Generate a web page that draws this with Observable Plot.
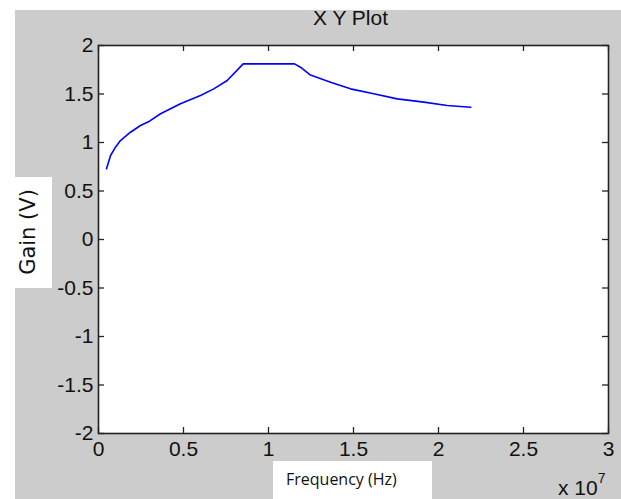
<!DOCTYPE html>
<html>
<head>
<meta charset="utf-8">
<script src="https://cdn.jsdelivr.net/npm/d3@7"></script>
<script src="https://cdn.jsdelivr.net/npm/@observablehq/plot@0.6"></script>
<style>
  html, body { margin: 0; padding: 0; background: #ffffff; }
  #wrap { position: relative; width: 621px; height: 499px; overflow: hidden; }
  #bg { position: absolute; left: 15px; top: 10px; width: 606px; height: 489px; background: #cccccc; }
  #chart { position: absolute; left: 0; top: 0; }
  .lbl { position: absolute; color: #111; font-family: "Liberation Sans", Arial, sans-serif; }
  #title { left: 0; width: 700px; top: 6px; text-align: center; font-size: 21px; }
  #ybox { position: absolute; left: 0; top: 177px; width: 52px; height: 111px; background: #fff; }
  #ylab { position: absolute; left: 28px; top: 232px; transform: translate(-50%, -50%) rotate(-90deg); white-space: nowrap; font-family: "DejaVu Sans", sans-serif; font-size: 21px; color: #111; }
  #xbox { position: absolute; left: 273px; top: 461px; width: 159px; height: 38px; background: #fff; }
  #xlab { position: absolute; left: 286px; top: 468px; font-family: "Open Sans", sans-serif; font-size: 16px; color: #111; white-space: nowrap; }
  #exp { left: 558px; top: 474px; font-size: 21px; white-space: nowrap; }
  #exp sup { font-size: 14px; position: relative; top: -4px; }
</style>
</head>
<body>
<div id="wrap">
  <div id="bg"></div>
  <div id="chart"></div>
  <div id="title" class="lbl" style="width:621px; left:40px;">X Y Plot</div>
  <div id="ybox"></div>
  <div id="ylab">Gain (V)</div>
  <div id="xbox"></div>
  <div id="xlab">Frequency (Hz)</div>
  <div id="exp" class="lbl">x 10<sup>7</sup></div>
</div>
<script>
// Frequency in units of 1e7 Hz
const freq = [0.047, 0.071, 0.10, 0.129, 0.188, 0.247, 0.30, 0.365, 0.482, 0.60, 0.678, 0.757, 0.851, 1.153, 1.188, 1.247, 1.365, 1.482, 1.619, 1.757, 1.914, 2.051, 2.19];
const gain = [0.73, 0.866, 0.952, 1.02, 1.106, 1.175, 1.22, 1.296, 1.399, 1.485, 1.553, 1.639, 1.811, 1.811, 1.776, 1.695, 1.622, 1.553, 1.502, 1.45, 1.416, 1.381, 1.364];
const xTicks = [0, 0.5, 1, 1.5, 2, 2.5, 3];
const xTickLabels = ["0", "0.5", "1", "1.5", "2", "2.5", "3"];
const yTicks = [-2, -1.5, -1, -0.5, 0, 0.5, 1, 1.5, 2];
const yTickLabels = ["-2", "-1.5", "-1", "-0.5", "0", "0.5", "1", "1.5", "2"];

const data = freq.map((f, i) => ({f, g: gain[i]}));
const W = 621, H = 499, mL = 98, mR = 13, mT = 45, mB = 66;
const iw = W - mL - mR, ih = H - mT - mB, tk = 6;

const plot = Plot.plot({
  width: W, height: H,
  marginLeft: mL, marginRight: mR, marginTop: mT, marginBottom: mB,
  style: {background: "transparent", fontFamily: "Liberation Sans, Arial, sans-serif", fontSize: "21px", color: "#111"},
  x: {domain: [0, 3], axis: null},
  y: {domain: [-2, 2], axis: null},
  marks: [
    Plot.frame({fill: "white", stroke: null}),
    Plot.line(data, {x: "f", y: "g", stroke: "#0000ff", strokeWidth: 1.6}),
    Plot.tickX(xTicks, {x: d => d, stroke: "#222", strokeWidth: 1.3, insetTop: ih - tk}),
    Plot.tickX(xTicks, {x: d => d, stroke: "#222", strokeWidth: 1.3, insetBottom: ih - tk}),
    Plot.tickY(yTicks, {y: d => d, stroke: "#222", strokeWidth: 1.3, insetLeft: iw - tk}),
    Plot.tickY(yTicks, {y: d => d, stroke: "#222", strokeWidth: 1.3, insetRight: iw - tk}),
    Plot.frame({stroke: "#222", strokeWidth: 1.6}),
    Plot.text(xTicks, {x: d => d, frameAnchor: "bottom", text: (d, i) => xTickLabels[i], lineAnchor: "top", dy: 8, fill: "#111", fontSize: 21}),
    Plot.text(yTicks, {y: d => d, frameAnchor: "left", text: (d, i) => yTickLabels[i], textAnchor: "end", dx: -5, fill: "#111", fontSize: 21})
  ]
});
document.getElementById("chart").appendChild(plot);
</script>
</body>
</html>
